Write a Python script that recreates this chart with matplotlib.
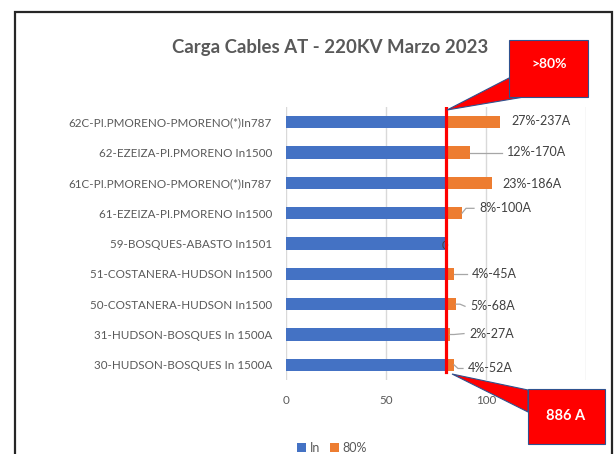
import matplotlib
matplotlib.use("Agg")
import matplotlib.pyplot as plt
from matplotlib.patches import Polygon, Rectangle

plt.rcParams['font.family'] = ['Lato', 'DejaVu Sans']

categories = [
    "62C-PI.PMORENO-PMORENO(*)In787",
    "62-EZEIZA-PI.PMORENO In1500",
    "61C-PI.PMORENO-PMORENO(*)In787",
    "61-EZEIZA-PI.PMORENO In1500",
    "59-BOSQUES-ABASTO In1501",
    "51-COSTANERA-HUDSON In1500",
    "50-COSTANERA-HUDSON In1500",
    "31-HUDSON-BOSQUES In 1500A",
    "30-HUDSON-BOSQUES In 1500A",
]
in_values = [80, 80, 80, 80, 80, 80, 80, 80, 80]
over_values = [27, 12, 23, 8, 0, 4, 5, 2, 4]
labels = ["27%-237A", "12%-170A", "23%-186A", "8%-100A", "0",
          "4%-45A", "5%-68A", "2%-27A", "4%-52A"]
# label placement offsets (data units dx, category units dy)
label_dx = [5.5, 18.5, 5, 8.5, -0.8, 9, 7, 9.5, 7]
label_dy = [-0.03, 0.0, 0.03, -0.16, 0.05, 0.0, 0.07, -0.03, 0.12]
xticks = [0, 50, 100, 150]
threshold = 80
title = "Carga Cables AT - 220KV Marzo 2023"

W, H = 616, 454
fig = plt.figure(figsize=(W / 100, H / 100), dpi=100)
ax = fig.add_axes([286 / W, 1 - 380 / H, 300 / W, 273 / H])

blue = "#4472C4"
orange = "#ED7D31"
txt = "#595959"

y = list(range(len(categories)))
ax.barh(y, in_values, height=0.4, color=blue, label="In", zorder=3)
ax.barh(y, over_values, left=in_values, height=0.4, color=orange, label="80%", zorder=3)

ax.set_ylim(len(categories) - 0.5, -0.5)
ax.set_xlim(0, 150)
ax.set_yticks(y)
ax.set_yticklabels(categories, fontsize=8.4, color=txt)
ax.set_xticks(xticks)
ax.set_xticklabels([str(t) for t in xticks], fontsize=8.4, color=txt)
ax.tick_params(length=0)
ax.tick_params(axis='y', pad=10)
ax.tick_params(axis='x', pad=11)
for s in ax.spines.values():
    s.set_visible(False)
ax.grid(axis='x', color="#D9D9D9", linewidth=1, zorder=0)
ax.set_axisbelow(True)

# data labels with leader lines
for i, (a, b, lab) in enumerate(zip(in_values, over_values, labels)):
    end = a + b
    dx, dy = label_dx[i], label_dy[i]
    if lab == "0":
        ax.text(end + dx, i + dy, lab, ha='center', va='center', fontsize=8, color="#404040", zorder=5)
        continue
    tx = end + dx
    ty = i + dy
    if dx > 6:
        ax.plot([end, end + 2, tx - 2.5], [i, ty, ty] if abs(dy) > 0.1 else [i, i, ty],
                color="#A6A6A6", linewidth=0.9, zorder=4)
    ax.text(tx, ty, lab, ha='left', va='center', fontsize=9, color="#404040", zorder=5)

# threshold line
ax.axvline(threshold, ymin=0.03, ymax=1.0, color="#FF0000", linewidth=2.3, zorder=6)

# title
fig.text(330 / W, 1 - 48 / H, title, ha='center', va='center', fontsize=13.4,
         fontweight='bold', color=txt)

# legend
leg = fig.legend(handles=ax.get_legend_handles_labels()[0], labels=["In", "80%"],
                 loc='center', bbox_to_anchor=(332 / W, 1 - 448 / H), ncol=2, frameon=False,
                 fontsize=9, handlelength=0.7, handleheight=0.7, columnspacing=0.8,
                 handletextpad=0.3, labelcolor=txt)

def fpt(px, py):
    return (px / W, 1 - py / H)

# callout >80%
edge = "#2F528F"
wedge1 = Polygon([fpt(447, 110), fpt(509, 78), fpt(524, 97)], closed=True,
                 transform=fig.transFigure, facecolor="#FF0000", edgecolor=edge, linewidth=0.8, zorder=10)
box1 = Rectangle(fpt(509, 97), 79 / W, 57 / H, transform=fig.transFigure,
                 facecolor="#FF0000", edgecolor=edge, linewidth=0.8, zorder=11)
fig.patches.extend([wedge1, box1])
fig.text(549 / W, 1 - 64 / H, ">80%", ha='center', va='center', color='white',
         fontweight='bold', fontsize=10, zorder=12)

# callout 886 A
wedge2 = Polygon([fpt(452, 374), fpt(528, 390), fpt(528, 412)], closed=True,
                 transform=fig.transFigure, facecolor="#FF0000", edgecolor=edge, linewidth=0.8, zorder=10)
box2 = Rectangle(fpt(528, 444), 77 / W, 55 / H, transform=fig.transFigure,
                 facecolor="#FF0000", edgecolor=edge, linewidth=0.8, zorder=11)
fig.patches.extend([wedge2, box2])
fig.text(566 / W, 1 - 416 / H, "886 A", ha='center', va='center', color='white',
         fontweight='bold', fontsize=10.5, zorder=12)

# outer frame
frame = Rectangle(fpt(15, 470), 597 / W, 458 / H, transform=fig.transFigure,
                  facecolor='none', edgecolor="#262626", linewidth=1.6, zorder=20, clip_on=False)
fig.patches.append(frame)

fig.savefig("out.png", dpi=100)
